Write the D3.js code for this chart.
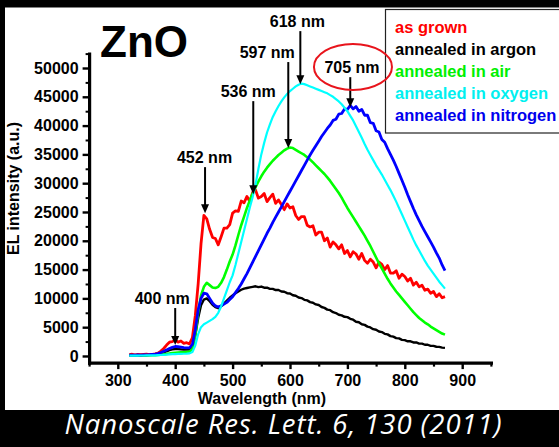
<!DOCTYPE html>
<html>
<head>
<meta charset="utf-8">
<script src="https://cdn.jsdelivr.net/npm/d3@7"></script>
<style>
  html, body { margin: 0; padding: 0; background: #000; }
  svg { display: block; }
</style>
</head>
<body>
<svg id="chart" width="559" height="447"></svg>
<script>
// Electroluminescence spectra of ZnO, sampled every 5 nm from 320 to 870 nm
const wavelengths = d3.range(320, 871, 5);

const asGrown = [
  250, 300, 200, 280, 230, 260, 300, 220, 280, 350,
  500, 850, 1300, 1900, 2400, 2500, 2800, 2400, 2600, 2200,
  2300, 2100, 3200, 7000, 12500, 19500, 24400, 23800, 22000, 20600,
  20400, 19300, 20700, 22200, 22200, 22800, 24800, 25200, 25100, 26900,
  26600, 27700, 26800, 28400, 28800, 27400, 27700, 28200, 26800, 27500,
  28100, 26500, 27100, 26300, 25400, 26400, 25700, 25900, 24400, 23700,
  24200, 24200, 22700, 22400, 22600, 21000, 21500, 21500, 20000, 20500,
  18900, 19800, 19300, 18600, 19300, 17800, 18300, 17200, 18100, 17700,
  16800, 17800, 16600, 16100, 16800, 16300, 15300, 16300, 15900, 15000,
  15700, 14400, 14400, 14800, 13500, 14200, 13800, 13000, 13500, 12300,
  12800, 12000, 12300, 11400, 11600, 10900, 11200, 10300, 10800, 10100,
  10300
];
const argon = [
  150, 160, 140, 150, 170, 150, 160, 180, 200, 250,
  320, 450, 620, 820, 1000, 1150, 1200, 1200, 1150, 1100,
  1100, 1100, 1500, 3600, 6600, 8800, 9800, 10000, 9500, 8900,
  8500, 8300, 8600, 9100, 9600, 10100, 10500, 10900, 11200, 11500,
  11700, 11800, 11900, 12000, 12100, 11950, 12050, 11850, 11850, 11650,
  11650, 11450, 11450, 11200, 11150, 10900, 10850, 10550, 10450, 10150,
  10050, 9750, 9650, 9350, 9250, 8950, 8850, 8500, 8350, 8050,
  7950, 7600, 7450, 7150, 7050, 6800, 6750, 6450, 6300, 5950,
  5850, 5500, 5400, 5100, 4950, 4650, 4550, 4250, 4150, 3850,
  3750, 3450, 3350, 3100, 3050, 2800, 2750, 2550, 2550, 2350,
  2350, 2150, 2150, 1950, 1950, 1750, 1750, 1600, 1580, 1450,
  1400
];
const air = [
  80, 90, 70, 80, 100, 90, 100, 120, 130, 150,
  180, 220, 280, 350, 420, 500, 560, 600, 640, 660,
  700, 750, 1200, 3600, 7500, 10500, 12000, 12700, 12300, 11900,
  11800, 12000, 12700, 13700, 15000, 16400, 17600, 19200, 21000, 22700,
  24200, 25700, 27000, 28200, 29300, 30300, 31200, 32000, 32700, 33300,
  33900, 34400, 34900, 35300, 35700, 36000, 36200, 36100, 35800, 35500,
  35200, 34900, 34500, 34100, 33600, 33100, 32600, 32100, 31600, 31000,
  30400, 29700, 29000, 28300, 27500, 26600, 25700, 24900, 24100, 23300,
  22500, 21700, 20900, 20000, 19100, 18100, 17100, 16100, 15200, 14300,
  13400, 12600, 11900, 11200, 10600, 10000, 9400, 8800, 8200, 7600,
  7100, 6600, 6200, 5800, 5500, 5100, 4800, 4500, 4200, 3900,
  3700
];
const oxygen = [
  60, 70, 60, 70, 80, 80, 90, 100, 110, 120,
  140, 170, 200, 240, 280, 310, 330, 350, 370, 390,
  400, 450, 700, 1800, 3800, 5000, 5500, 5800, 6100, 6400,
  6800, 7500, 8600, 10000, 11400, 12800, 14000, 15800, 17800, 19800,
  21800, 23800, 25800, 27600, 29800, 32500, 35000, 37000, 38800, 40200,
  41500, 42500, 43400, 44200, 44900, 45500, 46000, 46400, 46800, 47100,
  47300, 47200, 47000, 46800, 46600, 46400, 46200, 46000, 45800, 45600,
  45300, 45000, 44600, 44200, 43700, 43100, 42500, 41700, 40900, 39900,
  38900, 37900, 36800, 35800, 34900, 34000, 33100, 32300, 31500, 30600,
  29700, 28800, 27800, 26800, 25700, 24600, 23500, 22400, 21300, 20200,
  19200, 18300, 17400, 16500, 15700, 15000, 14300, 13600, 12900, 12300,
  11700
];
const nitrogen = [
  150, 160, 150, 170, 160, 180, 200, 230, 280, 330,
  420, 600, 800, 1050, 1300, 1500, 1650, 1600, 1550, 1450,
  1400, 1400, 2000, 4500, 8000, 10000, 10900, 10800, 10000, 9200,
  8700, 8500, 8700, 9000, 9300, 9800, 10300, 11000, 11700, 12500,
  13400, 14300, 15300, 16300, 17300, 18300, 19300, 20300, 21300, 22200,
  23200, 24100, 25000, 25900, 26800, 27700, 28600, 29500, 30400, 31300,
  32200, 33100, 34000, 34900, 35700, 36500, 37300, 38100, 38800, 39500,
  40100, 40900, 41100, 42000, 42100, 42900, 42800, 43500, 42900, 43300,
  42500, 42800, 41800, 41800, 40500, 40400, 39100, 38900, 37600, 37100,
  36000, 35000, 34000, 32900, 31700, 30500, 29300, 28000, 26800, 25600,
  24500, 23500, 22500, 21600, 20700, 19800, 18900, 17900, 17000, 15800,
  14800
];

const seriesNames = ["as grown", "annealed in argon", "annealed in air", "annealed in oxygen", "annealed in nitrogen"];
const seriesValues = [asGrown, argon, air, oxygen, nitrogen];

// Tick values
const xTicks = [300, 400, 500, 600, 700, 800, 900];
const xMinorTicks = [250, 350, 450, 550, 650, 750, 850, 950];
const yTicks = [0, 5000, 10000, 15000, 20000, 25000, 30000, 35000, 40000, 45000, 50000];
const yMinorTicks = [2500, 7500, 12500, 17500, 22500, 27500, 32500, 37500, 42500, 47500, 52500];

// Peak call-outs: label, wavelength and intensity of the arrow tip
const peakLabels = ["400 nm", "452 nm", "536 nm", "597 nm", "618 nm", "705 nm"];
const peakWavelengths = [400, 452, 536, 597, 618, 705];
const peakIntensities = [1900, 24800, 28100, 36100, 47200, 43200];

// ---- styling ----
const seriesColors = ["#ff0000", "#000000", "#00ff00", "#00ffff", "#0000ff"];
const legendColors = ["#ff0000", "#000000", "#00f000", "#00f0f0", "#0000ee"];
const seriesWidths = [2.8, 2.4, 2.6, 2.2, 2.8];
const drawOrder = [1, 0, 2, 4, 3];
const arrowLength = [37, 46, 93, 86, 53, 30];
const labelDx = [-13, -0.5, -5, -21, -3, 1.7];
const FONT = "'Liberation Sans', Arial, sans-serif";

const W = 559, H = 447;
const svg = d3.select("#chart");

svg.append("rect").attr("width", W).attr("height", H).attr("fill", "#000");
svg.append("rect").attr("x", 5).attr("y", 7.5).attr("width", W).attr("height", 402.5).attr("fill", "#fff");

const x = d3.scaleLinear().domain([250, 950]).range([89.1, 490.9]);
const y = d3.scaleLinear().domain([-1150, 52500]).range([362.6, 53.6]);

// ---- axes ----
function styleAxis(g, width) {
  g.select(".domain").attr("stroke", "#000").attr("stroke-width", 3.2).attr("stroke-linecap", "square");
  g.selectAll(".tick line").attr("stroke", "#000").attr("stroke-width", width);
  g.selectAll(".tick text").attr("fill", "#000").style("font", `bold 16px ${FONT}`);
}

const yMinor = svg.append("g").attr("transform", `translate(${x(250)},0)`)
  .call(d3.axisLeft(y).tickValues(yMinorTicks).tickSize(3.5).tickSizeOuter(0).tickFormat(""));
yMinor.select(".domain").remove();
yMinor.selectAll(".tick line").attr("stroke", "#000").attr("stroke-width", 2);

const yAxis = svg.append("g").attr("transform", `translate(${x(250)},0)`)
  .call(d3.axisLeft(y).tickValues(yTicks).tickSize(6.5).tickSizeOuter(0).tickPadding(4).tickFormat(d3.format("d")));
styleAxis(yAxis, 2.4);

const xMinor = svg.append("g").attr("transform", `translate(0,${y(-1150)})`)
  .call(d3.axisBottom(x).tickValues(xMinorTicks).tickSize(4).tickSizeOuter(0).tickFormat(""));
xMinor.select(".domain").remove();
xMinor.selectAll(".tick line").attr("stroke", "#000").attr("stroke-width", 2.2);

const xAxis = svg.append("g").attr("transform", `translate(0,${y(-1150)})`)
  .call(d3.axisBottom(x).tickValues(xTicks).tickSize(6.5).tickSizeOuter(0).tickPadding(6));
styleAxis(xAxis, 2.4);

// ---- spectra ----
const line = d3.line()
  .x((d, i) => x(wavelengths[i]))
  .y(d => y(d));

drawOrder.forEach(k => {
  svg.append("path")
    .datum(seriesValues[k])
    .attr("d", line)
    .attr("fill", "none")
    .attr("stroke", seriesColors[k])
    .attr("stroke-width", seriesWidths[k])
    .attr("stroke-linejoin", "round");
});

// ---- legend ----
svg.append("rect")
  .attr("x", 385.5).attr("y", 9.5).attr("width", 200).attr("height", 123.5)
  .attr("fill", "#fff").attr("stroke", "#222").attr("stroke-width", 1.2);
seriesNames.forEach((name, i) => {
  svg.append("text")
    .attr("x", 395).attr("y", 33 + i * 22)
    .style("font", `bold 16.5px ${FONT}`)
    .attr("fill", legendColors[i])
    .text(name);
});

// ---- peak call-outs ----
peakLabels.forEach((lab, i) => {
  const ax = x(peakWavelengths[i]);
  const ty = y(peakIntensities[i]);
  const top = ty - arrowLength[i];
  svg.append("line")
    .attr("x1", ax).attr("x2", ax).attr("y1", top).attr("y2", ty - 7)
    .attr("stroke", "#000").attr("stroke-width", 2);
  svg.append("path")
    .attr("d", `M${ax},${ty} L${ax - 4},${ty - 9} L${ax + 4},${ty - 9} Z`)
    .attr("fill", "#000");
  const baseline = top - 4.5;
  svg.append("text")
    .attr("x", ax + labelDx[i]).attr("y", baseline)
    .attr("text-anchor", "middle")
    .style("font", `bold 16px ${FONT}`)
    .attr("fill", "#000")
    .text(lab);
  if (peakWavelengths[i] === 705) {
    svg.append("ellipse")
      .attr("cx", ax + 2.7).attr("cy", baseline - 5.7)
      .attr("rx", 39).attr("ry", 23)
      .attr("fill", "none").attr("stroke", "#e8141c").attr("stroke-width", 2);
  }
});

// ---- titles ----
svg.append("text")
  .attr("x", 100).attr("y", 57)
  .style("font", `bold 44px ${FONT}`)
  .attr("fill", "#000")
  .text("ZnO");

svg.append("text")
  .attr("transform", "translate(18.5,188.5) rotate(-90)")
  .attr("text-anchor", "middle")
  .style("font", `bold 16px ${FONT}`)
  .attr("fill", "#000")
  .text("EL intensity (a.u.)");

svg.append("text")
  .attr("x", 262).attr("y", 403.5)
  .attr("text-anchor", "middle")
  .style("font", `bold 16px ${FONT}`)
  .attr("fill", "#000")
  .text("Wavelength (nm)");

svg.append("text")
  .attr("x", 283).attr("y", 434)
  .attr("text-anchor", "middle")
  .attr("textLength", 437)
  .attr("lengthAdjust", "spacing")
  .style("font", `italic 400 27.5px 'Open Sans', Lato, sans-serif`)
  .attr("fill", "#fff")
  .text("Nanoscale Res. Lett. 6, 130 (2011)");
</script>
</body>
</html>
